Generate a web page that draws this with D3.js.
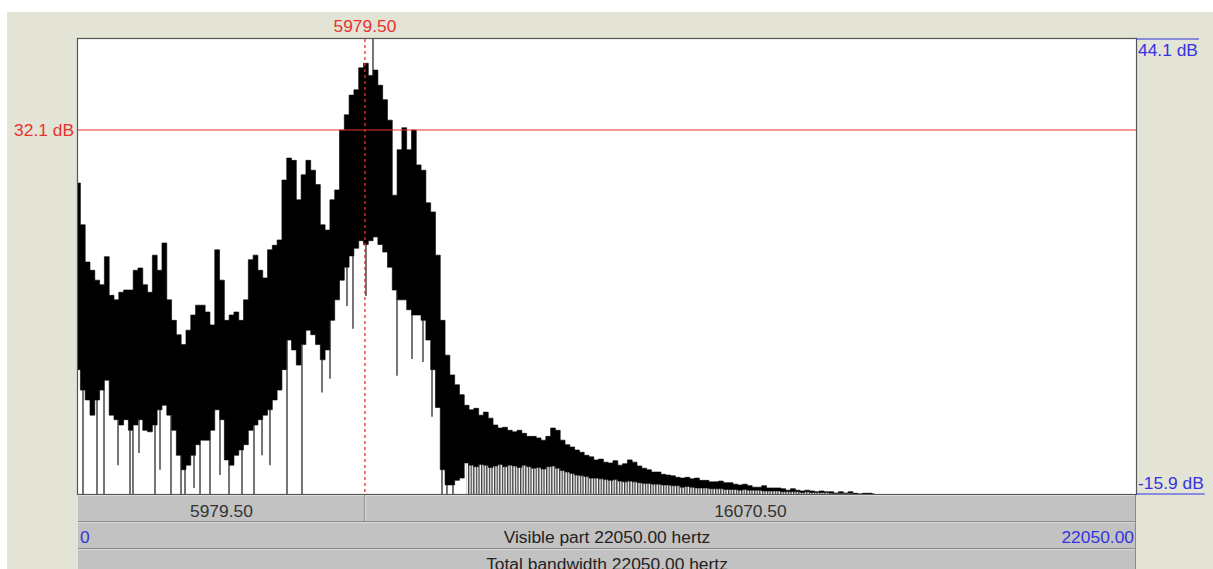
<!DOCTYPE html>
<html><head><meta charset="utf-8">
<script src="https://cdn.jsdelivr.net/npm/d3@7"></script>
<style>html,body{margin:0;padding:0;background:#fff;overflow:hidden}svg{display:block}text{font-family:"Liberation Sans",Arial,sans-serif;font-size:17.4px}</style>
</head><body><svg id="c" width="1213" height="569"></svg>
<script>
// ---- data ----
const freqHz = [0,100,200,300,400,500,600,700,800,900,1000,1100,1200,1300,1400,1500,1600,1700,1800,1900,2000,2100,2200,2300,2400,2500,2600,2700,2800,2900,3000,3100,3200,3300,3400,3500,3600,3700,3800,3900,4000,4100,4200,4300,4400,4500,4600,4700,4800,4900,5000,5100,5200,5300,5400,5500,5600,5700,5800,5900,6000,6100,6200,6300,6400,6500,6600,6700,6800,6900,7000,7100,7200,7300,7400,7500,7600,7700,7800,7900,8000,8100,8200,8300,8400,8500,8600,8700,8800,8900,9000,9100,9200,9300,9400,9500,9600,9700,9800,9900,10000,10100,10200,10300,10400,10500,10600,10700,10800,10900,11000,11100,11200,11300,11400,11500,11600,11700,11800,11900,12000,12100,12200,12300,12400,12500,12600,12700,12800,12900,13000,13100,13200,13300,13400,13500,13600,13700,13800,13900,14000,14100,14200,14300,14400,14500,14600,14700,14800,14900,15000,15100,15200,15300,15400,15500,15600,15700,15800,15900,16000,16100,16200,16300,16400,16500,16600];
// upper edge of the spectrum trace per bin (dB)
const upperDb = [25.1,19.6,14.7,13.6,12.3,11.7,15.4,10.3,9.7,10.7,11.0,11.0,13.6,13.9,11.7,10.7,15.6,13.6,17.2,9.7,7.0,5.1,3.8,5.7,7.7,9.0,9.0,8.1,6.4,16.3,12.3,7.0,7.7,8.1,7.0,9.7,15.0,15.6,13.6,12.6,16.3,16.9,17.6,25.5,28.4,28.1,22.9,26.2,28.1,26.8,24.9,19.6,18.9,22.9,24.2,32.1,34.1,36.7,37.4,40.3,40.9,39.3,40.0,38.0,36.1,33.4,23.5,29.5,32.4,29.5,32.1,27.5,26.8,22.5,21.3,15.6,7.0,2.4,-0.2,-1.5,-2.8,
 -4.2,-4.8,-4.6,-5.5,-5.1,-5.9,-6.8,-7.2,-7.1,-7.5,-7.7,-7.5,-7.9,-8.3,-8.3,-8.5,-8.8,-8.3,-7.2,-7.5,-8.8,-9.4,-9.7,-10.1,-10.4,-10.8,-11.0,-11.4,-11.3,-11.7,-11.8,-11.5,-12.1,-11.9,-11.4,-11.7,-12.2,-12.5,-12.7,-13.0,-13.0,-13.3,-13.4,-13.5,-13.7,-13.8,-13.7,-13.9,-13.8,-14.1,-14.1,-14.3,-14.3,-14.2,-14.4,-14.4,-14.6,-14.7,-14.6,-14.8,-15.0,-15.0,-14.8,-15.1,-15.1,-15.1,-15.2,-15.4,-15.2,-15.4,-15.5,-15.4,-15.5,-15.6,-15.5,-15.6,-15.6,-15.8,-15.6,-15.8,-15.6,-15.8,-15.9,-15.8,-15.8,-15.9];
// lower edge of the solid part of the trace per bin (dB)
const lowerDb = [0.5,-2.2,-3.5,-5.5,-3.5,-2.2,-0.9,-5.5,-6.1,-6.8,-6.1,-7.5,-6.8,-6.1,-7.5,-7.7,-6.8,-4.8,-4.2,-5.5,-7.5,-10.8,-12.7,-12.1,-10.8,-9.4,-8.8,-8.8,-7.5,-4.8,-6.1,-11.4,-12.1,-10.8,-10.1,-9.4,-7.5,-6.8,-6.1,-5.5,-4.8,-3.5,-2.2,0.5,4.4,3.1,1.1,3.8,5.7,5.1,3.8,1.8,3.1,7.0,9.7,12.3,14.0,15.5,16.5,17.5,17.0,17.5,18.0,17.0,16.0,14.0,11.0,9.7,9.7,8.4,7.7,7.7,7.0,4.4,0.5,-4.5,-12.7,-14.7,-14.7,-14.1,-13.8,
 -11.8,-12.1,-12.3,-12.0,-12.1,-12.4,-12.2,-12.0,-12.3,-12.1,-12.2,-12.4,-12.1,-12.3,-12.5,-12.4,-12.6,-12.3,-12.2,
 -12.5,-12.8,-13.0,-13.2,-13.4,-13.5,-13.6,-13.8,
 -13.8,-13.9,-14.0,-14.1,-14.0,-14.2,-14.3,-14.2,-14.3,-14.4,-14.5,-14.5,-14.6,-14.6,-14.7,-14.7,-14.8,-14.8,
 -15.0,-14.9,-15.0,-15.1,-15.1,-15.1,-15.2,-15.2,-15.2,-15.3,-15.3,-15.3,-15.4,-15.3,-15.4,-15.4,-15.4,-15.5,-15.5,-15.5,
 -15.5,-15.6,-15.6,-15.6,-15.6,-15.7,-15.6,-15.7,-15.7,-15.7,-15.7,-15.8,-15.8,-15.8,-15.8,-15.8,-15.9,-15.9,-15.9,-15.9,-15.9];
// isolated spikes of the trace: [Hz, dB]
const spikes = [[104,-15.9],[396,-15.9],[542,-15.9],[834,-12.1],[1084,-15.9],[1146,-15.9],[1271,-10.5],[1605,-15.9],[1709,-12.7],[1938,-15.9],[2147,-15.9],[2230,-15.9],[2418,-15.1],[2543,-15.9],[2751,-15.9],[2959,-13.4],[3147,-15.9],[3418,-15.9],[3668,-15.9],[3835,-10.8],[4001,-12.1],[4356,-15.9],[4668,-15.9],[5085,-2.5],[5252,-0.7],[5606,8.9],[5731,5.9],[6002,10.2],[6148,44.1],[6648,-0.3],[6961,1.9],[7190,1.5],[7378,-5.7],[7586,-15.9],[7690,-15.9],[7815,-15.9]];
// tail region where every other sample falls below the bottom of the view
const tailStartHz = 8100, tailEndHz = 16400;
const dbRange = [-15.9, 44.1];
const freqRange = [0, 22050];
const cursorHz = 5979.5;
const cursorDb = 32.1;
const cursorLabel = "5979.50";
const cursorDbLabel = "32.1 dB";
const topDbLabel = "44.1 dB", bottomDbLabel = "-15.9 dB";
const leftPartLabel = "5979.50", rightPartLabel = "16070.50";
const visibleLabel = "Visible part 22050.00 hertz";
const visibleStart = "0", visibleEnd = "22050.00";
const totalLabel = "Total bandwidth 22050.00 hertz";

// ---- drawing ----
const svg = d3.select("#c");
const L = 78, R = 1136, T = 39, B = 494;
const x = d3.scaleLinear(freqRange, [L, R]);
const y = d3.scaleLinear(dbRange, [B, T]);
const RED = "#e8322f", BLUE = "#3434e0";

svg.append("rect").attr("x",7).attr("y",12).attr("width",1213-7).attr("height",569-12).attr("fill","#e3e3d6");
svg.append("rect").attr("x",L).attr("y",T).attr("width",R-L).attr("height",B-T).attr("fill","#fff");

const defs = svg.append("defs");
defs.append("clipPath").attr("id","plot").append("rect").attr("x",L).attr("y",T).attr("width",R-L).attr("height",B-T);
const pat = defs.append("pattern").attr("id","stripes").attr("patternUnits","userSpaceOnUse").attr("width",2.6).attr("height",10);
pat.append("rect").attr("x",0).attr("y",0).attr("width",1.3).attr("height",10).attr("fill","#3a3a3a");

const bins = freqHz.map((f,i)=>({f, hi: upperDb[i], lo: lowerDb[i]}));
const g = svg.append("g").attr("clip-path","url(#plot)");

// striped tail
const tail = bins.filter(d=>d.f>=tailStartHz && d.f<=tailEndHz);
g.append("path").datum(tail)
 .attr("d", d3.area().x(d=>x(d.f)).y0(y(dbRange[0])).y1(d=>y(d.lo)).curve(d3.curveStep))
 .attr("fill","url(#stripes)");

// main trace body
g.append("path").datum(bins)
 .attr("d", d3.area().x(d=>x(d.f)).y0(d=>y(d.lo)).y1(d=>y(d.hi)).curve(d3.curveStep))
 .attr("fill","#000").attr("stroke","#000").attr("stroke-width",0.6);

// spikes
const nearest = f => bins[Math.max(0, Math.min(bins.length-1, Math.round(f/100)))];
g.selectAll("line.sp").data(spikes).join("line").attr("class","sp")
 .attr("x1",d=>x(d[0])).attr("x2",d=>x(d[0]))
 .attr("y1",d=>y(d[1]))
 .attr("y2",d=>{const b=nearest(d[0]); return y(d[1]<b.lo ? b.lo : (d[1]>b.hi ? b.hi : d[1]));})
 .attr("stroke","#1a1a1a").attr("stroke-width",1.2);

// cursor lines
svg.append("line").attr("x1",L).attr("x2",R).attr("y1",y(cursorDb)).attr("y2",y(cursorDb)).attr("stroke",RED).attr("stroke-width",1.2);
svg.append("line").attr("x1",x(cursorHz)).attr("x2",x(cursorHz)).attr("y1",T).attr("y2",B).attr("stroke",RED).attr("stroke-width",1.3).attr("stroke-dasharray","3,3");

// border
svg.append("rect").attr("x",L-0.5).attr("y",T-0.5).attr("width",R-L+1).attr("height",B-T+1).attr("fill","none").attr("stroke","#555").attr("stroke-width",1.2);

// labels
svg.append("text").attr("x",x(cursorHz)).attr("y",32).attr("text-anchor","middle").attr("fill",RED).text(cursorLabel);
svg.append("text").attr("x",L-4).attr("y",y(cursorDb)+6).attr("text-anchor","end").attr("fill",RED).text(cursorDbLabel);
const t1 = svg.append("text").attr("x",R+2).attr("y",56).attr("fill",BLUE).text(topDbLabel);
const w1 = t1.node().getComputedTextLength();
svg.append("line").attr("x1",R).attr("x2",R+3+w1).attr("y1",T).attr("y2",T).attr("stroke",BLUE).attr("stroke-width",1.2);
const t2 = svg.append("text").attr("x",R+2).attr("y",489).attr("fill",BLUE).text(bottomDbLabel);
const w2 = t2.node().getComputedTextLength();
svg.append("line").attr("x1",R).attr("x2",R+3+w2).attr("y1",B).attr("y2",B).attr("stroke",BLUE).attr("stroke-width",1.2);

// bottom bars
const rows = [[495,521],[522,548],[549,575]];
rows.forEach(r=>{
  svg.append("rect").attr("x",L).attr("y",r[0]).attr("width",R-L).attr("height",r[1]-r[0]).attr("fill","#c2c2c2");
  svg.append("line").attr("x1",L).attr("x2",R).attr("y1",r[0]+0.5).attr("y2",r[0]+0.5).attr("stroke","#dadada");
  svg.append("line").attr("x1",L).attr("x2",R).attr("y1",r[1]+0.5).attr("y2",r[1]+0.5).attr("stroke","#8a8a8a");
});
svg.append("line").attr("x1",R-0.5).attr("x2",R-0.5).attr("y1",495).attr("y2",569).attr("stroke","#8a8a8a");
svg.append("line").attr("x1",x(cursorHz)-0.5).attr("x2",x(cursorHz)-0.5).attr("y1",495).attr("y2",521).attr("stroke","#8a8a8a");
svg.append("line").attr("x1",x(cursorHz)+0.5).attr("x2",x(cursorHz)+0.5).attr("y1",495).attr("y2",521).attr("stroke","#dedede");
svg.append("text").attr("x",(L+x(cursorHz))/2).attr("y",517).attr("text-anchor","middle").attr("fill","#333").text(leftPartLabel);
svg.append("text").attr("x",(x(cursorHz)+R)/2).attr("y",517).attr("text-anchor","middle").attr("fill","#333").text(rightPartLabel);
svg.append("text").attr("x",(L+R)/2).attr("y",543).attr("text-anchor","middle").attr("fill","#222").text(visibleLabel);
svg.append("text").attr("x",L+2).attr("y",543).attr("text-anchor","start").attr("fill",BLUE).text(visibleStart);
svg.append("text").attr("x",R-2).attr("y",543).attr("text-anchor","end").attr("fill",BLUE).text(visibleEnd);
svg.append("text").attr("x",(L+R)/2).attr("y",570).attr("text-anchor","middle").attr("fill","#222").text(totalLabel);
</script></body></html>
